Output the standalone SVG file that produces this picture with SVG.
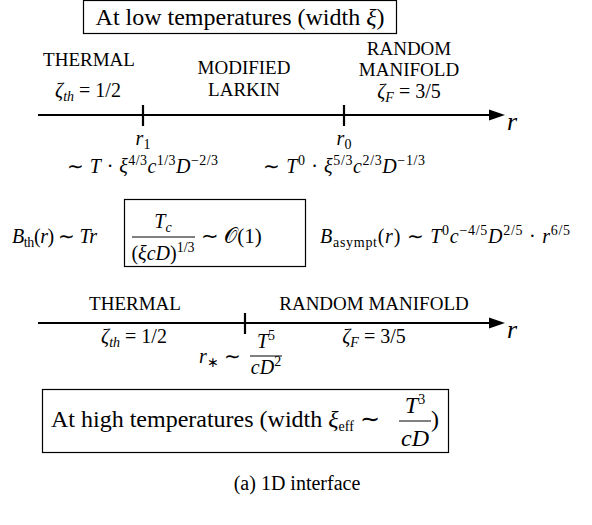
<svg xmlns="http://www.w3.org/2000/svg" width="592" height="525" viewBox="0 0 592 525">
<style>
text{font-family:'Liberation Serif','Times New Roman',serif;fill:#000}
.title{font-size:24px}
.lbl{font-size:19px}
.m{font-size:20px}
.i{font-style:italic}
.s{font-size:14px}
.ax{stroke:#000;stroke-width:2.2;fill:none}
.tick{stroke:#000;stroke-width:2.2}
.box{fill:none;stroke:#000;stroke-width:1.2}
.frac{stroke:#000;stroke-width:1}
</style>
<defs>
<marker id="arrow" viewBox="0 0 16 12" refX="6" refY="6" markerWidth="16" markerHeight="12" markerUnits="userSpaceOnUse" orient="auto">
<path d="M0,0.5 L16,6 L0,11.5 z" fill="#000"/>
</marker>
</defs>

<g id="low-title">
<rect class="box" x="83.5" y="0.5" width="313" height="33"/>
<text class="title" x="240" y="25" text-anchor="middle">At low temperatures (width <tspan class="i">ξ</tspan>)</text>
</g>

<g id="connectors">
<line class="ax" x1="38" y1="115" x2="495" y2="115" marker-end="url(#arrow)"/>
<line class="tick" x1="143" y1="105" x2="143" y2="126"/>
<line class="tick" x1="344" y1="105" x2="344" y2="126"/>
<line class="ax" x1="38" y1="323" x2="495" y2="323" marker-end="url(#arrow)"/>
<line class="tick" x1="245" y1="313" x2="245" y2="334"/>
</g>

<g id="low-thermal">
<text class="lbl" x="89" y="66" text-anchor="middle">THERMAL</text>
<text class="m" x="88" y="97" text-anchor="middle"><tspan class="i">ζ</tspan><tspan class="i s" dy="4">th</tspan><tspan dy="-4"> = 1/2</tspan></text>
</g>
<g id="low-larkin">
<text class="lbl" x="244" y="74" text-anchor="middle">MODIFIED</text>
<text class="lbl" x="244" y="96" text-anchor="middle">LARKIN</text>
</g>
<g id="low-random">
<text class="lbl" x="409" y="55" text-anchor="middle">RANDOM</text>
<text class="lbl" x="409" y="76" text-anchor="middle">MANIFOLD</text>
<text class="m" x="409" y="98" text-anchor="middle"><tspan class="i">ζ</tspan><tspan class="i s" dy="4">F</tspan><tspan dy="-4"> = 3/5</tspan></text>
</g>
<g id="low-axis-label">
<text class="i" x="507" y="130" style="font-size:26px">r</text>
</g>
<g id="r1">
<text class="m" x="143" y="145" text-anchor="middle"><tspan class="i">r</tspan><tspan class="s" dy="4">1</tspan></text>
<text class="m" x="67" y="173" textLength="151" lengthAdjust="spacing">∼ <tspan class="i">T</tspan> · <tspan class="i">ξ</tspan><tspan class="s" dy="-8">4/3</tspan><tspan class="i" dy="8">c</tspan><tspan class="s" dy="-8">1/3</tspan><tspan class="i" dy="8">D</tspan><tspan class="s" dy="-8">−2/3</tspan></text>
</g>
<g id="r0">
<text class="m" x="344" y="145" text-anchor="middle"><tspan class="i">r</tspan><tspan class="s" dy="4">0</tspan></text>
<text class="m" x="263" y="173" textLength="162" lengthAdjust="spacing">∼ <tspan class="i">T</tspan><tspan class="s" dy="-8">0</tspan><tspan dy="8"> · </tspan><tspan class="i">ξ</tspan><tspan class="s" dy="-8">5/3</tspan><tspan class="i" dy="8">c</tspan><tspan class="s" dy="-8">2/3</tspan><tspan class="i" dy="8">D</tspan><tspan class="s" dy="-8">−1/3</tspan></text>
</g>

<g id="b-thermal">
<text class="m" x="12" y="243" textLength="85" lengthAdjust="spacing"><tspan class="i">B</tspan><tspan class="s" dy="4">th</tspan><tspan dy="-4">(</tspan><tspan class="i">r</tspan>) ∼ <tspan class="i">Tr</tspan></text>
</g>
<g id="crossover-box">
<rect class="box" x="124.5" y="199.5" width="181" height="67"/>
<text class="m" x="163" y="228" text-anchor="middle"><tspan class="i">T</tspan><tspan class="i s" dy="4">c</tspan></text>
<line class="frac" x1="132" y1="237" x2="195" y2="237"/>
<text class="m" x="163" y="260" text-anchor="middle">(<tspan class="i">ξcD</tspan>)<tspan class="s" dy="-8">1/3</tspan></text>
<text class="m" x="201" y="243" style="font-size:21px">∼ 𝒪(1)</text>
</g>
<g id="b-asympt">
<text class="m" x="320" y="243" textLength="250" lengthAdjust="spacing"><tspan class="i">B</tspan><tspan class="s" dy="4">asympt</tspan><tspan dy="-4">(</tspan><tspan class="i">r</tspan>) ∼ <tspan class="i">T</tspan><tspan class="s" dy="-8">0</tspan><tspan class="i" dy="8">c</tspan><tspan class="s" dy="-8">−4/5</tspan><tspan class="i" dy="8">D</tspan><tspan class="s" dy="-8">2/5</tspan><tspan dy="8"> · </tspan><tspan class="i">r</tspan><tspan class="s" dy="-8">6/5</tspan></text>
</g>

<g id="high-thermal">
<text class="lbl" x="135" y="310" text-anchor="middle">THERMAL</text>
<text class="m" x="134" y="343" text-anchor="middle"><tspan class="i">ζ</tspan><tspan class="i s" dy="4">th</tspan><tspan dy="-4"> = 1/2</tspan></text>
</g>
<g id="high-random">
<text class="lbl" x="374" y="310" text-anchor="middle">RANDOM MANIFOLD</text>
<text class="m" x="374" y="343" text-anchor="middle"><tspan class="i">ζ</tspan><tspan class="i s" dy="4">F</tspan><tspan dy="-4"> = 3/5</tspan></text>
</g>
<g id="high-axis-label">
<text class="i" x="507" y="338" style="font-size:26px">r</text>
</g>
<g id="rstar">
<text class="m" x="199" y="363"><tspan class="i">r</tspan><tspan class="s" dy="4">∗</tspan><tspan dy="-4"> ∼</tspan></text>
<text class="m" x="266" y="348" text-anchor="middle"><tspan class="i">T</tspan><tspan class="s" dy="-8">5</tspan></text>
<line class="frac" x1="250" y1="356" x2="282" y2="356"/>
<text class="m" x="266" y="374" text-anchor="middle"><tspan class="i">cD</tspan><tspan class="s" dy="-8">2</tspan></text>
</g>

<g id="high-title">
<rect class="box" x="42.5" y="389.5" width="406" height="63"/>
<text class="title" x="51" y="427">At high temperatures (width <tspan class="i">ξ</tspan><tspan class="s" dy="4">eff</tspan><tspan dy="-4"> ∼</tspan></text>
<text class="title" x="415" y="413" text-anchor="middle"><tspan class="i">T</tspan><tspan class="s" dy="-9">3</tspan></text>
<line class="frac" x1="399" y1="421" x2="431" y2="421"/>
<text class="title i" x="415" y="446" text-anchor="middle">cD</text>
<text class="title" x="431" y="427">)</text>
</g>

<g id="caption">
<text class="lbl" x="297" y="490" text-anchor="middle" style="font-size:20px">(a) 1D interface</text>
</g>
</svg>
